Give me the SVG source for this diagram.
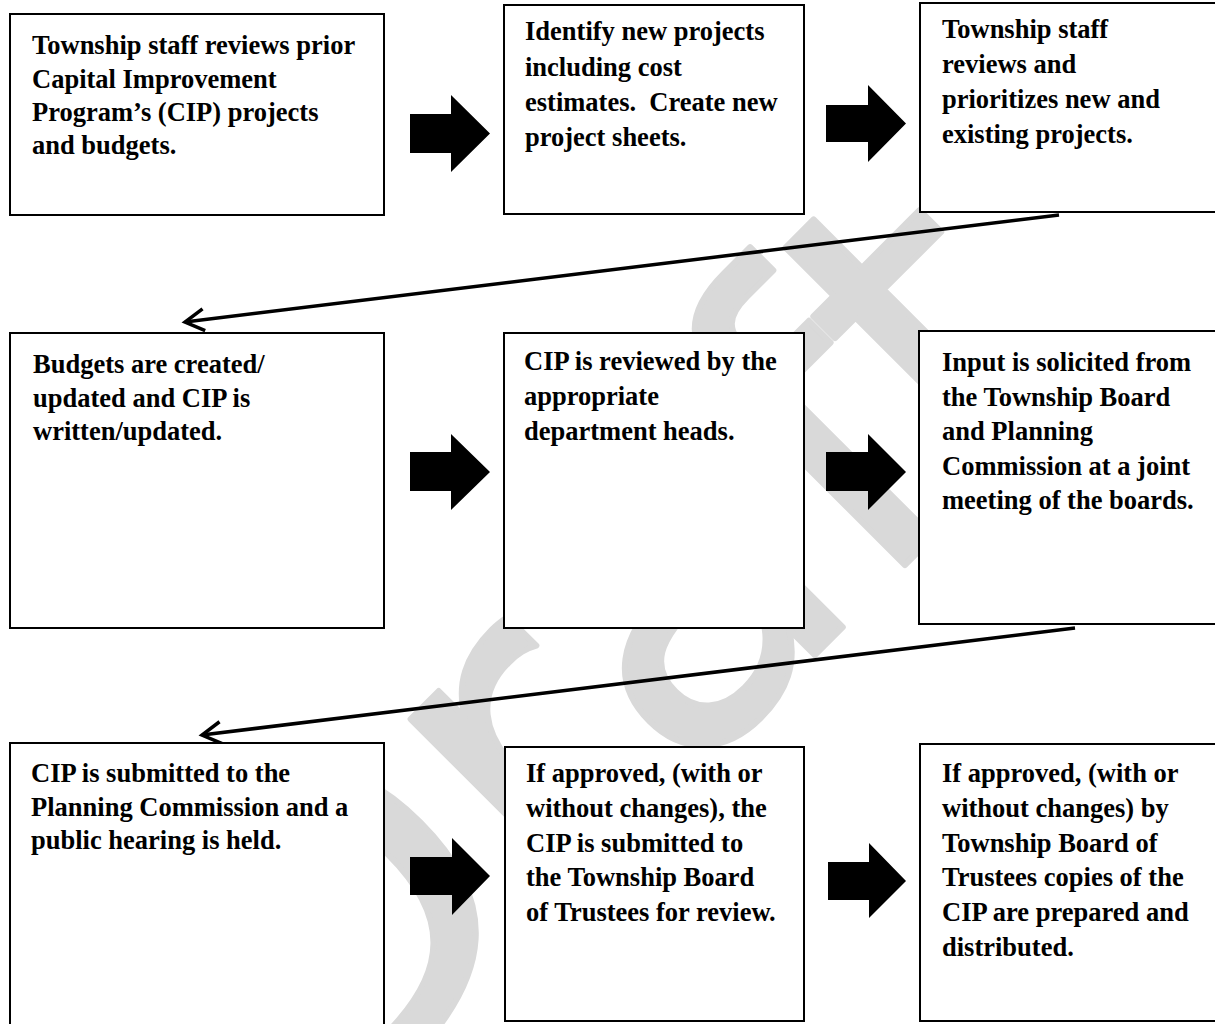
<svg xmlns="http://www.w3.org/2000/svg" width="1215" height="1024" viewBox="0 0 1215 1024">
<style>
.box{fill:#fff;stroke:#000;stroke-width:2}
.t{font-family:"Liberation Serif","Times New Roman",serif;font-weight:bold;font-size:26.5px;fill:#000}
.blk{fill:#000}
.con{fill:none;stroke:#000;stroke-width:3.5}
.wm{font-family:"DejaVu Sans",sans-serif;font-size:440px;fill:#d9d9d9;stroke:#d9d9d9;stroke-width:6;stroke-linejoin:round}
</style>
<defs>
<marker id="open" markerUnits="userSpaceOnUse" orient="auto" refX="0" refY="0" markerWidth="40" markerHeight="40" overflow="visible">
<path d="M-19,-11 L0,0 L-19,11" fill="none" stroke="#000" stroke-width="3.5" stroke-linejoin="miter"/>
</marker>
</defs>
<rect width="1215" height="1024" fill="#fff"/>
<text class="wm" text-anchor="middle" transform="translate(705,765) rotate(-45)">Draft</text>

<g id="connectors">
<line class="con" x1="1059" y1="215" x2="185" y2="322" marker-end="url(#open)"/>
<line class="con" x1="1075" y1="628" x2="202" y2="735" marker-end="url(#open)"/>
<polygon id="a1" class="blk" points="410,114 451,114 451,95 490,133.5 451,172 451,153 410,153"/>
<polygon id="a2" class="blk" points="826,105 868,105 868,85 906,123.5 868,162 868,142 826,142"/>
<polygon id="a3" class="blk" points="410,452 451,452 451,434 490,472 451,510 451,491 410,491"/>
<polygon id="a4" class="blk" points="826,452 868,452 868,434 906,472 868,510 868,491 826,491"/>
<polygon id="a5" class="blk" points="410,857 452,857 452,838 490,876 452,915 452,895 410,895"/>
<polygon id="a6" class="blk" points="828,862 869,862 869,843 906,881 869,918 869,900 828,900"/>
</g>

<g id="n1">
<rect class="box" x="10" y="14" width="374" height="201"/>
<text class="t"><tspan x="32" y="54">Township staff reviews prior</tspan><tspan x="32" y="87.5">Capital Improvement</tspan><tspan x="32" y="120.5">Program’s (CIP) projects</tspan><tspan x="32" y="153.5">and budgets.</tspan></text>
</g>
<g id="n2">
<rect class="box" x="504" y="5" width="300" height="209"/>
<text class="t"><tspan x="525" y="40">Identify new projects</tspan><tspan x="525" y="75.5">including cost</tspan><tspan x="525" y="110.5" xml:space="preserve">estimates.  Create new</tspan><tspan x="525" y="145.5">project sheets.</tspan></text>
</g>
<g id="n3">
<rect class="box" x="920" y="3" width="310" height="209"/>
<text class="t"><tspan x="942" y="38">Township staff</tspan><tspan x="942" y="73">reviews and</tspan><tspan x="942" y="108">prioritizes new and</tspan><tspan x="942" y="143">existing projects.</tspan></text>
</g>
<g id="n4">
<rect class="box" x="10" y="333" width="374" height="295"/>
<text class="t"><tspan x="33" y="373">Budgets are created/</tspan><tspan x="33" y="406.5">updated and CIP is</tspan><tspan x="33" y="440">written/updated.</tspan></text>
</g>
<g id="n5">
<rect class="box" x="504" y="333" width="300" height="295"/>
<text class="t"><tspan x="524" y="369.5">CIP is reviewed by the</tspan><tspan x="524" y="404.5">appropriate</tspan><tspan x="524" y="439.5">department heads.</tspan></text>
</g>
<g id="n6">
<rect class="box" x="919" y="331" width="310" height="293"/>
<text class="t"><tspan x="942" y="371">Input is solicited from</tspan><tspan x="942" y="405.5">the Township Board</tspan><tspan x="942" y="440">and Planning</tspan><tspan x="942" y="474.5">Commission at a joint</tspan><tspan x="942" y="509">meeting of the boards.</tspan></text>
</g>
<g id="n7">
<rect class="box" x="10" y="743" width="374" height="300"/>
<text class="t"><tspan x="31" y="782">CIP is submitted to the</tspan><tspan x="31" y="815.5">Planning Commission and a</tspan><tspan x="31" y="849">public hearing is held.</tspan></text>
</g>
<g id="n8">
<rect class="box" x="505" y="747" width="299" height="274"/>
<text class="t"><tspan x="526" y="782">If approved, (with or</tspan><tspan x="526" y="817">without changes), the</tspan><tspan x="526" y="851.5">CIP is submitted to</tspan><tspan x="526" y="886">the Township Board</tspan><tspan x="526" y="921">of Trustees for review.</tspan></text>
</g>
<g id="n9">
<rect class="box" x="920" y="744" width="310" height="277"/>
<text class="t"><tspan x="942" y="782">If approved, (with or</tspan><tspan x="942" y="817">without changes) by</tspan><tspan x="942" y="851.5">Township Board of</tspan><tspan x="942" y="886">Trustees copies of the</tspan><tspan x="942" y="921">CIP are prepared and</tspan><tspan x="942" y="956">distributed.</tspan></text>
</g>
</svg>
